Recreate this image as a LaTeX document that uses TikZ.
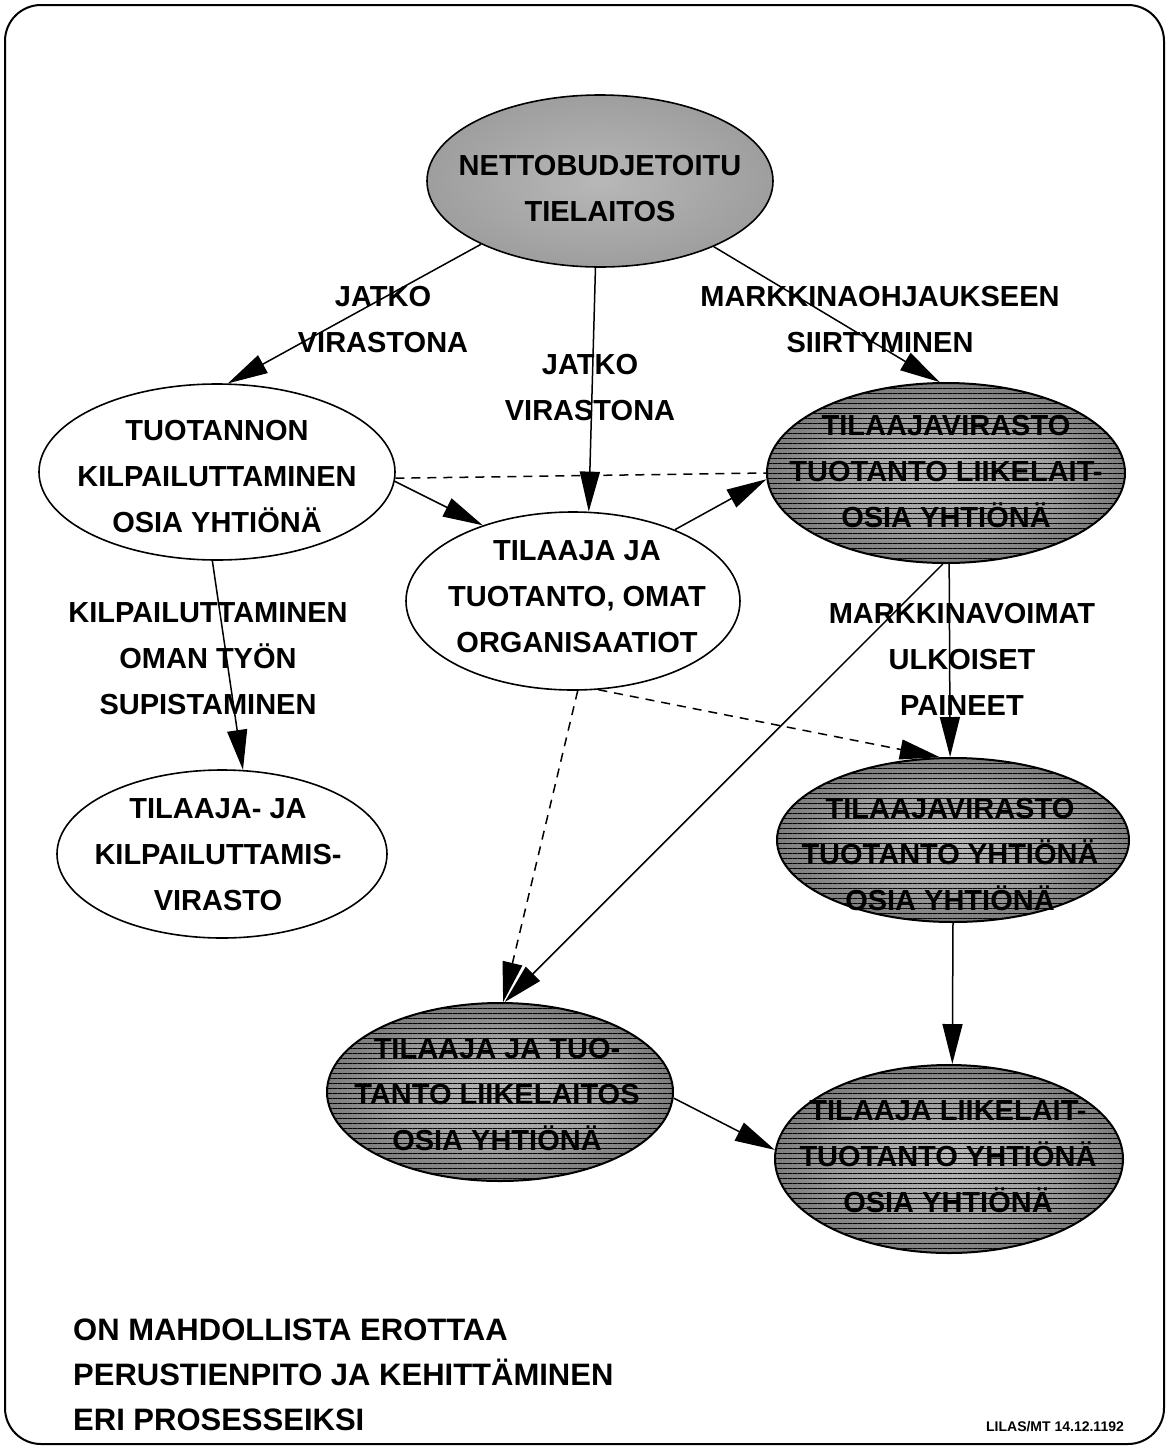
\documentclass[tikz,border=0pt]{standalone}
\usepackage{fontspec}
\setmainfont{Liberation Sans}
\usetikzlibrary{shapes.geometric,arrows.meta,patterns.meta}

% shadings for the filled ovals
\pgfdeclareradialshading{darkshade}{\pgfpoint{0bp}{0bp}}{color(0bp)=(black!28); color(16bp)=(black!38); color(36bp)=(black!68); color(50bp)=(black!90)}
\pgfdeclareradialshading{greyshade}{\pgfpoint{0bp}{0bp}}{color(0bp)=(black!28); color(30bp)=(black!40); color(50bp)=(black!55)}

\tikzset{
  frame/.style={draw, line width=2pt, rounded corners=36pt},
  oval/.style={ellipse, draw, line width=1.6pt, inner sep=0pt},
  plainoval/.style={oval, fill=white},
  greyoval/.style={oval, shading=greyshade},
  darkoval/.style={oval, line width=2pt, shading=darkshade,
    postaction={fill opacity=.14, pattern={Lines[angle=0,distance=5pt,line width=1pt]}, pattern color=black}},
  ovaltext/.style={align=center, inner sep=0pt, font=\fontsize{29}{46}\selectfont\bfseries},
  edgelabel/.style={align=center, inner sep=0pt, font=\fontsize{29}{46}\selectfont\bfseries},
  conn/.style={line width=1.5pt, -{Triangle[length=40pt,width=20pt]}},
  dashline/.style={line width=1.5pt, dash pattern=on 9pt off 7pt},
  dashconn/.style={conn, dash pattern=on 9pt off 7pt},
}

\begin{document}
\begin{tikzpicture}[x=1pt,y=-1pt]
\useasboundingbox (0,0) rectangle (1168,1449);
\draw[frame] (5,5) rectangle (1164,1444);

% ovals
\node[greyoval,  minimum width=346pt, minimum height=172pt] (top) at (600,181) {};
\node[plainoval, minimum width=356pt, minimum height=176pt] (comp) at (217,472) {};
\node[plainoval, minimum width=334pt, minimum height=178pt] (own) at (573,601) {};
\node[darkoval,  minimum width=358pt, minimum height=180pt] (d1) at (946,473) {};
\node[plainoval, minimum width=330pt, minimum height=168pt] (agency) at (222,854) {};
\node[darkoval,  minimum width=352pt, minimum height=164pt] (d2) at (953,840) {};
\node[darkoval,  minimum width=346pt, minimum height=178pt] (d3) at (500,1092) {};
\node[darkoval,  minimum width=348pt, minimum height=188pt] (d4) at (949,1159) {};

% connectors
\draw[conn] (top.208) -- (comp.83);
\draw[conn] (top.267) -- (own.80);
\draw[conn] (top.330) -- (d1.94);
\draw[conn] (comp.357) -- (own.140);
\draw[dashline] (comp.358) -- (d1.180);
\draw[conn] (own.35) -- (d1.182);
\draw[conn] (comp.267) -- (agency.76);
\draw[conn] (d1.268) -- (d3.87);
\draw[conn] (d1.272) -- (d2.92);
\draw[dashconn] (own.286) -- (d2.99);
\draw[dashconn] (own.273) -- (d3.88);
\draw[conn] (d2.270) -- (d4.88);
\draw[conn] (d3.358) -- (d4.177);

% texts inside the ovals
\node[ovaltext] (toptext) at (600,189) {NETTOBUDJETOITU\\TIELAITOS};
\node[ovaltext] (comptext) at (217,477) {TUOTANNON\\KILPAILUTTAMINEN\\OSIA YHTIÖNÄ};
\node[ovaltext] (owntext) at (577,597) {TILAAJA JA\\TUOTANTO, OMAT\\ORGANISAATIOT};
\node[ovaltext] (d1text) at (946,472) {TILAAJAVIRASTO\\TUOTANTO LIIKELAIT-\\OSIA YHTIÖNÄ};
\node[ovaltext] (agencytext) at (218,855) {TILAAJA- JA\\KILPAILUTTAMIS-\\VIRASTO};
\node[ovaltext] (d2text) at (950,855) {TILAAJAVIRASTO\\TUOTANTO YHTIÖNÄ\\OSIA YHTIÖNÄ};
\node[ovaltext] (d3text) at (497,1095) {TILAAJA JA TUO-\\TANTO LIIKELAITOS\\OSIA YHTIÖNÄ};
\node[ovaltext] (d4text) at (948,1157) {TILAAJA LIIKELAIT-\\TUOTANTO YHTIÖNÄ\\OSIA YHTIÖNÄ};

% connector labels
\node[edgelabel] (l1) at (383,320) {JATKO\\VIRASTONA};
\node[edgelabel] (l2) at (590,388) {JATKO\\VIRASTONA};
\node[edgelabel] (l3) at (880,320) {MARKKINAOHJAUKSEEN\\SIIRTYMINEN};
\node[edgelabel] (l4) at (208,659) {KILPAILUTTAMINEN\\OMAN TYÖN\\SUPISTAMINEN};
\node[edgelabel] (l5) at (962,659) {MARKKINAVOIMAT\\ULKOISET\\PAINEET};

% note and stamp
\node[anchor=west, align=left, inner sep=0pt, font=\fontsize{31}{45}\selectfont\bfseries] (note) at (73,1375)
  {ON MAHDOLLISTA EROTTAA\\PERUSTIENPITO JA KEHITTÄMINEN\\ERI PROSESSEIKSI};
\node[inner sep=0pt, font=\fontsize{14}{16}\selectfont\bfseries] (stamp) at (1055,1427) {LILAS/MT 14.12.1192};
\end{tikzpicture}
\end{document}
